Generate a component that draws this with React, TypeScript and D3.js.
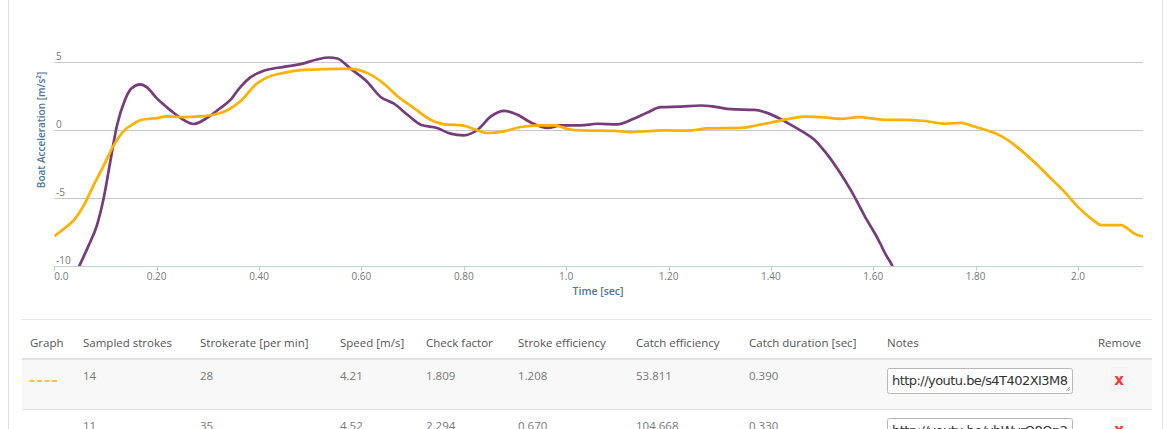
import React from "react";
import * as d3 from "d3";

// ---- chart data ----
const orangeTime = [0, 0.018, 0.04, 0.057, 0.076, 0.096, 0.115, 0.135, 0.155, 0.171, 0.2, 0.22, 0.252, 0.285, 0.311, 0.337, 0.363, 0.396, 0.416, 0.448, 0.481, 0.513, 0.546, 0.578, 0.611, 0.644, 0.67, 0.703, 0.735, 0.768, 0.794, 0.82, 0.846, 0.879, 0.911, 0.95, 0.977, 1.003, 1.029, 1.094, 1.127, 1.192, 1.237, 1.277, 1.342, 1.368, 1.401, 1.433, 1.466, 1.498, 1.537, 1.57, 1.622, 1.662, 1.701, 1.74, 1.772, 1.792, 1.818, 1.851, 1.883, 1.916, 1.949, 1.975, 2.001, 2.027, 2.046, 2.085, 2.098, 2.111, 2.13];
const orangeAcc = [-7.81, -7.28, -6.55, -5.58, -4.12, -2.66, -1.2, -0.1, 0.46, 0.75, 0.87, 1.0, 0.95, 1.0, 1.12, 1.43, 2.09, 3.43, 3.87, 4.2, 4.4, 4.45, 4.5, 4.5, 4.2, 3.4, 2.5, 1.6, 0.75, 0.39, 0.36, 0.07, -0.22, -0.1, 0.22, 0.34, 0.34, 0.07, -0.03, -0.07, -0.15, -0.03, -0.05, 0.12, 0.15, 0.31, 0.55, 0.8, 0.99, 0.95, 0.82, 0.95, 0.75, 0.75, 0.66, 0.46, 0.53, 0.31, 0.02, -0.47, -1.31, -2.41, -3.63, -4.6, -5.69, -6.55, -6.99, -6.99, -7.28, -7.64, -7.86];

const purpleTime = [0.03, 0.05, 0.067, 0.083, 0.096, 0.109, 0.122, 0.138, 0.151, 0.168, 0.181, 0.2, 0.226, 0.252, 0.272, 0.298, 0.324, 0.344, 0.363, 0.383, 0.409, 0.448, 0.481, 0.513, 0.536, 0.553, 0.578, 0.611, 0.637, 0.663, 0.69, 0.716, 0.748, 0.774, 0.8, 0.827, 0.853, 0.879, 0.905, 0.931, 0.964, 0.99, 1.029, 1.061, 1.1, 1.133, 1.159, 1.185, 1.224, 1.263, 1.289, 1.322, 1.368, 1.394, 1.433, 1.466, 1.485, 1.505, 1.531, 1.557, 1.583, 1.609, 1.625, 1.636, 1.65];
const purpleAcc = [-11.5, -9.9, -8.5, -7.04, -5.09, -2.41, 0.26, 2.21, 3.07, 3.36, 3.14, 2.34, 1.48, 0.75, 0.44, 0.88, 1.6, 2.21, 3.14, 3.87, 4.35, 4.64, 4.84, 5.18, 5.33, 5.26, 4.53, 3.55, 2.45, 1.95, 1.12, 0.39, 0.15, -0.27, -0.39, 0.02, 1.0, 1.41, 1.12, 0.55, 0.15, 0.34, 0.34, 0.46, 0.41, 0.85, 1.29, 1.68, 1.72, 1.8, 1.72, 1.53, 1.48, 1.24, 0.51, -0.22, -0.71, -1.56, -2.9, -4.48, -6.31, -8.0, -9.2, -9.9, -11.2];

const xTicks = [0, 0.2, 0.4, 0.6, 0.8, 1.0, 1.2, 1.4, 1.6, 1.8, 2.0];
const xTickLabels = ["0.0", "0.20", "0.40", "0.60", "0.80", "1.0", "1.20", "1.40", "1.60", "1.80", "2.0"];
const yTicks = [-10, -5, 0, 5, 10];
const yTickLabels = ["-10", "-5", "0", "5", "10"];

// ---- table data ----
const tableHeaders = ["Graph", "Sampled strokes", "Strokerate [per min]", "Speed [m/s]", "Check factor", "Stroke efficiency", "Catch efficiency", "Catch duration [sec]", "Notes", "Remove"];
const sampledStrokes = ["14", "11"];
const strokeRates = ["28", "35"];
const speeds = ["4.21", "4.52"];
const checkFactors = ["1.809", "2.294"];
const strokeEfficiencies = ["1.208", "0.670"];
const catchEfficiencies = ["53.811", "104.668"];
const catchDurations = ["0.390", "0.330"];
const notes = ["http://youtu.be/s4T402XI3M8", "http://youtu.be/vbWyrO8Qn2"];
const seriesColors = ["#ffb000", "#763b7a"];

const ORANGE = "#ffb000";
const PURPLE = "#763b7a";
const FONT = "'Open Sans', sans-serif";

export default function App() {
  const left = 54.3;
  const right = 1143;
  const x = d3.scaleLinear().domain([0, 2.127]).range([left, right]);
  const y = d3.scaleLinear().domain([-10, 10]).range([266, -6]);

  const line = d3
    .line<[number, number]>()
    .x((d) => x(d[0]))
    .y((d) => y(d[1]))
    .curve(d3.curveMonotoneX);

  const orangeData: [number, number][] = orangeTime.map((t, i) => [t, orangeAcc[i]]);
  const purpleData: [number, number][] = purpleTime.map((t, i) => [t, purpleAcc[i]]);

  const colX = [30, 83, 200, 340, 426, 518, 636, 749, 887, 1098];
  const rowTop = [359, 409];
  const rowH = 50;

  return (
    <div style={{ position: "absolute", left: 0, top: 0, width: 1170, height: 429, overflow: "hidden", background: "#fff" }}>
      <svg width={1170} height={429} style={{ display: "block", fontFamily: FONT }}>
        <defs>
          <clipPath id="plotClip">
            <rect x={left} y={-10} width={right - left} height={266 + 10} />
          </clipPath>
        </defs>
        {/* panel borders */}
        <line x1={8.5} x2={8.5} y1={0} y2={429} stroke="#e3e3e3" />
        <line x1={1162.5} x2={1162.5} y1={0} y2={429} stroke="#e3e3e3" />

        {/* gridlines */}
        {yTicks.map((t) =>
          t === -10 ? null : (
            <line key={t} x1={left} x2={right} y1={Math.round(y(t)) + 0.5} y2={Math.round(y(t)) + 0.5} stroke="#c8c8c8" />
          )
        )}
        {/* x axis line */}
        <line x1={left} x2={right} y1={266.5} y2={266.5} stroke="#c0d0e0" />
        {xTicks.map((t, i) => (
          <g key={t}>
            <line x1={Math.round(x(t)) + 0.5} x2={Math.round(x(t)) + 0.5} y1={266} y2={271} stroke="#c0d0e0" />
            <text
              x={x(t)}
              y={279.5}
              fontSize={10}
              fill="#777"
              textAnchor={i === 0 ? "start" : "middle"}
            >
              {xTickLabels[i]}
            </text>
          </g>
        ))}
        {/* y tick labels (only those inside the visible frame) */}
        {yTicks.map((t, i) =>
          y(t) - 12 < 0 ? null : (
            <text key={t} x={56} y={y(t) - 2.5} fontSize={10} fill="#777">
              {yTickLabels[i]}
            </text>
          )
        )}
        {/* axis titles */}
        <text x={598} y={295} fontSize={10.5} fontWeight={600} fill="#4d759e" textAnchor="middle">
          Time [sec]
        </text>
        <text
          transform={`translate(45,130) rotate(-90)`}
          fontSize={10}
          fontWeight={600}
          fill="#4d759e"
          textAnchor="middle"
        >
          Boat Acceleration [m/s²]
        </text>

        {/* series */}
        <g clipPath="url(#plotClip)">
          <path d={line(purpleData) || ""} fill="none" stroke={PURPLE} strokeWidth={2.7} strokeLinejoin="round" />
          <path d={line(orangeData) || ""} fill="none" stroke={ORANGE} strokeWidth={2.7} strokeLinejoin="round" />
        </g>

        {/* table */}
        <line x1={22} x2={1152} y1={319.5} y2={319.5} stroke="#e5e5e5" />
        {tableHeaders.map((h, i) => (
          <text key={h} x={colX[i]} y={347} fontSize={11.5} fill="#555">
            {h}
          </text>
        ))}
        <rect x={22} y={rowTop[0]} width={1130} height={rowH} fill="#f8f8f8" />
        <line x1={22} x2={1152} y1={359} y2={359} stroke="#e3e3e3" strokeWidth={2} />
        <line x1={22} x2={1152} y1={409.5} y2={409.5} stroke="#e3e3e3" />
        {rowTop.map((top, r) => {
          const vals = [sampledStrokes[r], strokeRates[r], speeds[r], checkFactors[r], strokeEfficiencies[r], catchEfficiencies[r], catchDurations[r]];
          return (
            <g key={r}>
              <line x1={29.5} x2={57} y1={top + 22} y2={top + 22} stroke={seriesColors[r]} strokeWidth={1.5} strokeDasharray="5,2.5" />
              {vals.map((v, j) => (
                <text key={j} x={colX[j + 1]} y={top + 21} fontSize={11.5} fill="#777">
                  {v}
                </text>
              ))}
              <rect x={887.5} y={top + 9.5} width={185} height={25} rx={2} fill="#fff" stroke="#b8b8b8" />
              <text x={892} y={top + 26} fontSize={13} fill="#333" fontFamily="'DejaVu Sans', sans-serif" textLength={176}>
                {notes[r]}
              </text>
              <line x1={1066} x2={1070} y1={top + 32} y2={top + 28} stroke="#999" strokeWidth={0.8} />
              <line x1={1068} x2={1070} y1={top + 32} y2={top + 30} stroke="#999" strokeWidth={0.8} />
              <rect x={1110} y={top + 8} width={18} height={25} fill="#f3f3f3" opacity={0.6} />
              <text x={1119} y={top + 26} fontSize={15} fontWeight={700} fill="#f43a3a" textAnchor="middle" fontFamily="'DejaVu Sans', sans-serif">
                x
              </text>
            </g>
          );
        })}
      </svg>
    </div>
  );
}
